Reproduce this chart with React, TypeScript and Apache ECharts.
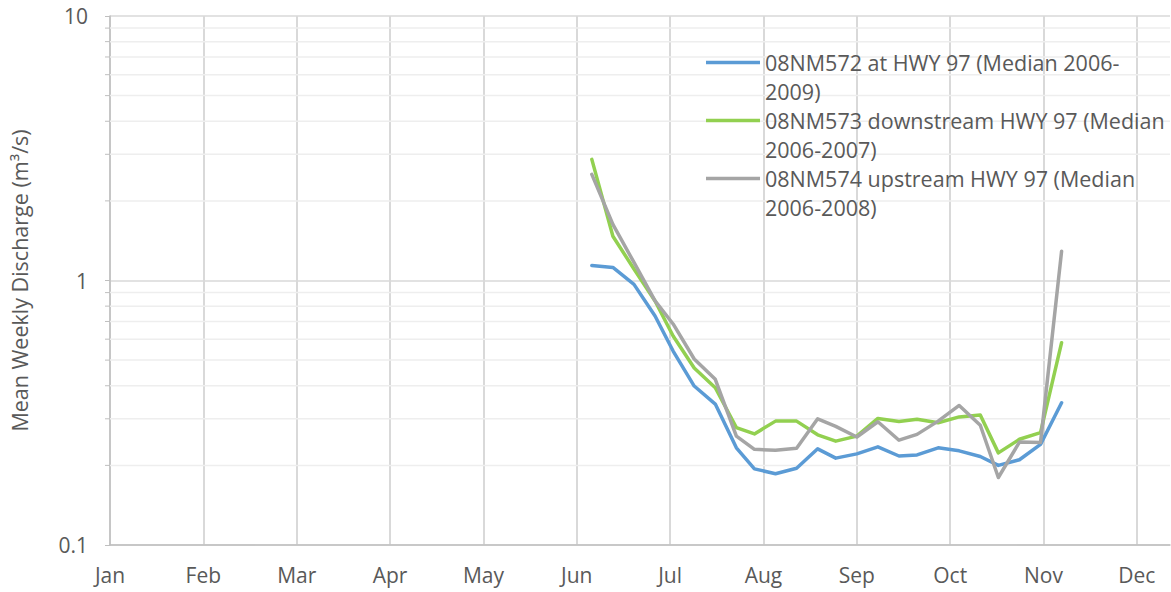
import React, { useEffect, useRef } from "react";
import * as echarts from "echarts";

const MONTHS = ["Jan", "Feb", "Mar", "Apr", "May", "Jun", "Jul", "Aug", "Sep", "Oct", "Nov", "Dec"];
// day of year (axis units: 31 days per month label)
const WEEK_DAY = [160, 167, 174, 181, 187, 194, 201, 208, 214, 221, 228, 235, 241, 248, 255, 262, 268, 275, 282, 289, 295, 302, 309, 316];

const S572 = [1.14, 1.12, 0.967, 0.734, 0.541, 0.399, 0.341, 0.233, 0.194, 0.186, 0.195, 0.231, 0.213, 0.221, 0.235, 0.217, 0.219, 0.233, 0.227, 0.216, 0.2, 0.21, 0.24, 0.345];
const S573 = [2.87, 1.47, 1.105, 0.837, 0.617, 0.467, 0.393, 0.278, 0.263, 0.294, 0.294, 0.261, 0.247, 0.258, 0.301, 0.293, 0.299, 0.29, 0.305, 0.31, 0.223, 0.251, 0.266, 0.582];
const S574 = [2.52, 1.63, 1.17, 0.837, 0.685, 0.505, 0.423, 0.258, 0.23, 0.228, 0.232, 0.3, 0.281, 0.256, 0.2925, 0.249, 0.262, 0.294, 0.337, 0.2835, 0.18, 0.245, 0.244, 1.29];

const SERIES_NAMES = [
  "08NM572 at HWY 97 (Median 2006-2009)",
  "08NM573 downstream HWY 97 (Median 2006-2007)",
  "08NM574 upstream HWY 97 (Median 2006-2008)",
];
const LEGEND_LINES = [
  "08NM572 at HWY 97 (Median 2006-\n2009)",
  "08NM573 downstream HWY 97 (Median\n2006-2007)",
  "08NM574 upstream HWY 97 (Median\n2006-2008)",
];
const COLORS = ["#5B9BD5", "#92D050", "#A5A5A5"];
const Y_MINOR = [0.2, 0.3, 0.4, 0.5, 0.6, 0.7, 0.8, 0.9, 2, 3, 4, 5, 6, 7, 8, 9];

const FONT = "'Open Sans', sans-serif";
const TXT = "#595959";

export default function App() {
  const ref = useRef<HTMLDivElement>(null);
  useEffect(() => {
    document.body.style.margin = "0";
    const chart = echarts.init(ref.current!, null, { renderer: "svg" });
    const values = [S572, S573, S574];
    const lineSeries = SERIES_NAMES.map((name, i) => ({
      name,
      type: "line",
      data: WEEK_DAY.map((d, k) => [d, values[i][k]]),
      showSymbol: false,
      symbol: "none",
      itemStyle: { color: COLORS[i] },
      lineStyle: { color: COLORS[i], width: 3.5, join: "round", cap: "round" },
      z: 3,
    }));
    const minorSeries = {
      name: "minor",
      type: "custom",
      silent: true,
      z: 1,
      data: Y_MINOR.map((v) => [0, v]),
      renderItem: (params: any, api: any) => {
        const p = api.coord([api.value(0), api.value(1)]);
        const cs = params.coordSys;
        return {
          type: "group",
          children: [
            {
              type: "line",
              shape: { x1: cs.x, y1: p[1], x2: cs.x + cs.width, y2: p[1] },
              style: { stroke: "#EEEEEE", lineWidth: 1.5 },
            },
            {
              type: "line",
              shape: { x1: cs.x - 5, y1: p[1], x2: cs.x, y2: p[1] },
              style: { stroke: "#BFBFBF", lineWidth: 1 },
            },
          ],
        };
      },
    };
    chart.setOption({
      animation: false,
      grid: { left: 110, right: 1, top: 16, bottom: 47 },
      legend: {
        data: SERIES_NAMES,
        orient: "vertical",
        left: 701,
        top: 43,
        itemGap: 0,
        itemWidth: 54,
        itemHeight: 58,
        icon: "path://M0,12.75H54V16.25H0Z M0,0H0.01V0.01H0Z M0,58H0.01V58.01H0Z",
        itemStyle: { borderWidth: 0 },
        formatter: (name: string) => LEGEND_LINES[SERIES_NAMES.indexOf(name)],
        textStyle: { fontFamily: FONT, fontSize: 21.5, lineHeight: 29, color: TXT },
        selectedMode: false,
      },
      xAxis: {
        type: "value",
        min: 0,
        max: 352,
        interval: 31,
        axisLine: { lineStyle: { color: "#BFBFBF", width: 1.5 } },
        axisTick: { show: false },
        axisLabel: {
          formatter: (v: number) => (v % 31 === 0 ? MONTHS[v / 31] : ""),
          color: TXT,
          fontFamily: FONT,
          fontSize: 21,
          margin: 19,
          showMaxLabel: false,
        },
        splitLine: { show: true, showMaxLine: false, lineStyle: { color: "#D9D9D9", width: 2 } },
      },
      yAxis: {
        type: "log",
        logBase: 10,
        min: 0.1,
        max: 10,
        axisLine: { show: true, lineStyle: { color: "#BFBFBF", width: 1.5 } },
        axisTick: { show: true, length: 5, lineStyle: { color: "#BFBFBF" } },
        axisLabel: {
          formatter: (v: number) => (v < 1 ? v.toFixed(1) : v.toFixed(0)),
          color: TXT,
          fontFamily: FONT,
          fontSize: 21,
          margin: 22,
        },
        splitLine: { show: true, lineStyle: { color: "#D9D9D9", width: 1.5 } },
        name: "Mean Weekly Discharge (m³/s)",
        nameLocation: "middle",
        nameRotate: 90,
        nameGap: 80,
        nameTextStyle: { fontFamily: FONT, fontSize: 21.5, color: TXT },
      },
      series: [minorSeries, ...lineSeries],
    });
    return () => chart.dispose();
  }, []);
  return <div ref={ref} style={{ width: 1171, height: 592 }} />;
}
